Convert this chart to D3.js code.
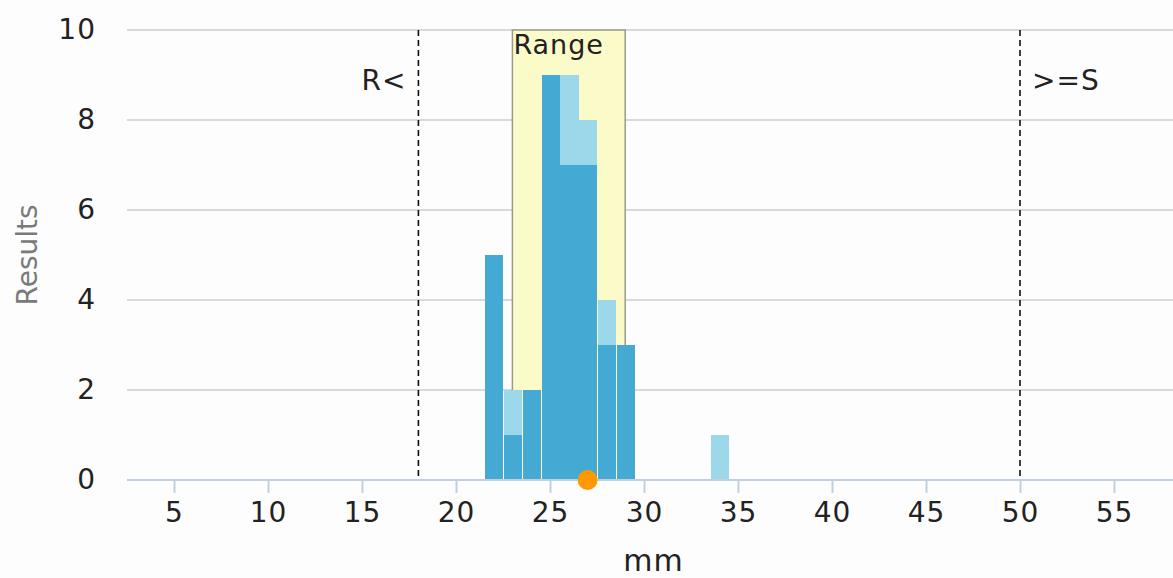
<!DOCTYPE html>
<html>
<head>
<meta charset="utf-8">
<script src="https://cdn.jsdelivr.net/npm/d3@7"></script>
<style>
  html, body { margin: 0; padding: 0; background: #fdfdfd; }
  svg { display: block; }
  text { font-family: "DejaVu Sans", Verdana, sans-serif; }
</style>
</head>
<body>
<svg id="chart" width="1173" height="578"></svg>
<script>
// ---- data ----
const bins = [22, 23, 24, 25, 26, 27, 28, 29, 34];          // bin centers (mm)
const seriesDark = [5, 1, 2, 9, 7, 7, 3, 3, 0];             // lower stacked series
const seriesLight = [0, 1, 0, 0, 2, 1, 1, 0, 1];            // upper stacked series
const xTicks = [5, 10, 15, 20, 25, 30, 35, 40, 45, 50, 55];
const yTicks = [0, 2, 4, 6, 8, 10];
const rangeBand = [23, 29];
const breakpoints = [{ value: 18, label: "R<" }, { value: 50, label: ">=S" }];
const markerValue = [27];

// ---- layout ----
const svg = d3.select("#chart");
const plotLeft = 127, plotRight = 1173, plotTop = 30, plotBottom = 480;

const x = d3.scaleLinear().domain([5, 55]).range([174, 1114]);
const y = d3.scaleLinear().domain([0, 10]).range([plotBottom, plotTop]);

const fontSize = 28;

// gridlines
svg.append("g").selectAll("line").data(yTicks.filter(d => d > 0)).join("line")
  .attr("x1", plotLeft).attr("x2", plotRight)
  .attr("y1", d => y(d)).attr("y2", d => y(d))
  .attr("stroke", "#d9d9d9").attr("stroke-width", 2);

// range band
svg.append("rect")
  .attr("x", x(rangeBand[0])).attr("y", plotTop)
  .attr("width", x(rangeBand[1]) - x(rangeBand[0]))
  .attr("height", plotBottom - plotTop)
  .attr("fill", "#fbfbc9").attr("stroke", "#9a9a8a").attr("stroke-width", 1.5);

svg.append("text")
  .attr("x", x(rangeBand[0]) + 1).attr("y", 54)
  .attr("font-size", 27).attr("letter-spacing", 1).attr("fill", "#222")
  .text("Range");

// bars
const step = x(1) - x(0);
const barData = bins.map((b, i) => ({ b, d: seriesDark[i], l: seriesLight[i] }));
const bars = svg.append("g").attr("shape-rendering", "crispEdges");
bars.selectAll("rect.dark").data(barData.filter(d => d.d > 0)).join("rect")
  .attr("class", "dark")
  .attr("x", d => x(d.b - 0.5) + 1)
  .attr("width", step - 0.6)
  .attr("y", d => y(d.d))
  .attr("height", d => y(0) - y(d.d))
  .attr("fill", "#44a9d3");
bars.selectAll("rect.light").data(barData.filter(d => d.l > 0)).join("rect")
  .attr("class", "light")
  .attr("x", d => x(d.b - 0.5) + 1)
  .attr("width", step - 0.6)
  .attr("y", d => y(d.d + d.l))
  .attr("height", d => y(d.d) - y(d.d + d.l))
  .attr("fill", "#9cd8e9");

// breakpoint lines
const bp = svg.append("g");
bp.selectAll("line").data(breakpoints).join("line")
  .attr("x1", d => x(d.value)).attr("x2", d => x(d.value))
  .attr("y1", plotTop).attr("y2", plotBottom)
  .attr("stroke", "#111").attr("stroke-width", 1.6)
  .attr("stroke-dasharray", "6,4");
bp.selectAll("text").data(breakpoints).join("text")
  .attr("x", d => d.value === 18 ? x(d.value) - 12 : x(d.value) + 12)
  .attr("y", 90)
  .attr("text-anchor", d => d.value === 18 ? "end" : "start")
  .attr("font-size", fontSize).attr("letter-spacing", 1).attr("fill", "#222")
  .text(d => d.label);

// x axis
const xAxisG = svg.append("g").attr("transform", `translate(0,${plotBottom})`);
xAxisG.append("line")
  .attr("x1", plotLeft).attr("x2", plotRight)
  .attr("stroke", "#c0d0e0").attr("stroke-width", 2);
const xAxis = d3.axisBottom(x).tickValues(xTicks).tickSize(13).tickPadding(9).tickFormat(d3.format("d"));
const xa = xAxisG.append("g").call(xAxis);
xa.select(".domain").remove();
xa.selectAll(".tick line").attr("stroke", "#c0d0e0").attr("stroke-width", 2);
xa.selectAll(".tick text").attr("font-size", fontSize).attr("letter-spacing", 1).attr("fill", "#222")
  .attr("font-family", "DejaVu Sans, Verdana, sans-serif");

// y axis labels
const yAxis = d3.axisLeft(y).tickValues(yTicks).tickSize(0).tickPadding(0).tickFormat(d3.format("d"));
const ya = svg.append("g").attr("transform", "translate(96,0)").call(yAxis);
ya.select(".domain").remove();
ya.selectAll(".tick text").attr("font-size", fontSize).attr("letter-spacing", 1).attr("fill", "#222")
  .attr("font-family", "DejaVu Sans, Verdana, sans-serif");

// marker dot
svg.selectAll("circle.marker").data(markerValue).join("circle")
  .attr("class", "marker")
  .attr("cx", d => x(d)).attr("cy", y(0))
  .attr("r", 10).attr("fill", "#ff9900");

// axis titles
svg.append("text")
  .attr("x", x(30.5)).attr("y", 571)
  .attr("text-anchor", "middle")
  .attr("font-size", 30).attr("letter-spacing", 1).attr("fill", "#222")
  .text("mm");

svg.append("text")
  .attr("transform", `translate(37,${(plotTop + plotBottom) / 2}) rotate(-90)`)
  .attr("text-anchor", "middle")
  .attr("font-family", "Open Sans, sans-serif")
  .attr("font-size", 28).attr("fill", "#7a7a7a")
  .text("Results");
</script>
</body>
</html>
